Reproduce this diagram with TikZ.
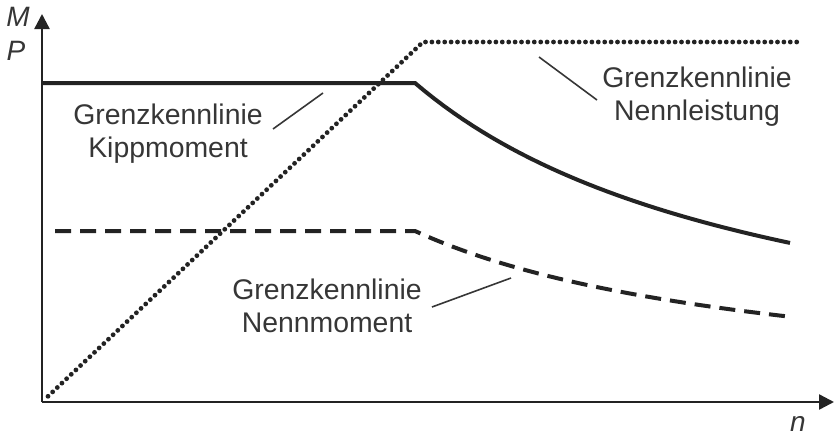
\documentclass[tikz,border=0pt]{standalone}
\usepackage{fontspec}
\setmainfont{Liberation Sans}
\usetikzlibrary{arrows.meta}
\definecolor{ink}{HTML}{232323}
\definecolor{txt}{HTML}{363636}

\begin{document}
\begin{tikzpicture}[
    x=0.5pt, y=0.5pt,
    axis/.style={line width=1.2pt, draw=ink, -{Triangle[length=7.5pt, width=7.5pt]}},
    kipp/.style={line width=2pt, draw=ink},
    nenn/.style={line width=2pt, draw=ink, dash pattern=on 8pt off 4.5pt},
    power/.style={line width=2.4pt, draw=ink, line cap=round, dash pattern=on 0pt off 3.2pt},
    lbl/.style={font=\fontsize{14.2}{16.5}\selectfont, text=txt, align=center, inner sep=0pt},
    sym/.style={font=\fontsize{14}{16}\selectfont\itshape, text=txt, inner sep=0pt},
    leader/.style={line width=0.8pt, draw=txt},
  ]
  \useasboundingbox (-42,-33) rectangle (794,402);

  % -------------------------------------------------------
  %  Axes
  % -------------------------------------------------------
  \coordinate (O) at (0,0);
  \coordinate (ytop) at (0,388);
  \coordinate (xend) at (792,0);
  \draw[axis] (O) -- (ytop);
  \draw[axis] (O) -- (xend);
  \node[sym] (M) at (-24,385) {M};
  \node[sym] (P) at (-26,351) {P};
  \node[sym] (n) at (756,-22) {n};

  % -------------------------------------------------------
  %  Limit curves
  % -------------------------------------------------------
  % Kippmoment: constant, then falling like 1/n
  \draw[kipp] (0,319) -- (373,319)
    -- plot[domain=373:748, samples=40] (\x, {319*(373/\x)});

  % Nennmoment: same shape, lower
  \draw[nenn] (13,171) -- (373,171)
    -- plot[domain=373:748, samples=40] (\x, {171*(373/\x)});

  % Nennleistung: rising, then constant
  \draw[power] (6,5.7) -- (381,360) -- (756,360);

  % -------------------------------------------------------
  %  Labels
  % -------------------------------------------------------
  \node[lbl] (kippLbl) at (126,268) {Grenzkennlinie\\Kippmoment};
  \node[lbl] (leistLbl) at (655,305) {Grenzkennlinie\\Nennleistung};
  \node[lbl] (momLbl) at (285,96) {Grenzkennlinie\\Nennmoment};

  \coordinate (kippA) at (231,273);
  \coordinate (kippB) at (281,309);
  \coordinate (leistA) at (555,302);
  \coordinate (leistB) at (497,345);
  \coordinate (momA) at (390,95);
  \coordinate (momB) at (469,124);
  \draw[leader] (kippA) -- (kippB);
  \draw[leader] (leistA) -- (leistB);
  \draw[leader] (momA) -- (momB);

\end{tikzpicture}
\end{document}
